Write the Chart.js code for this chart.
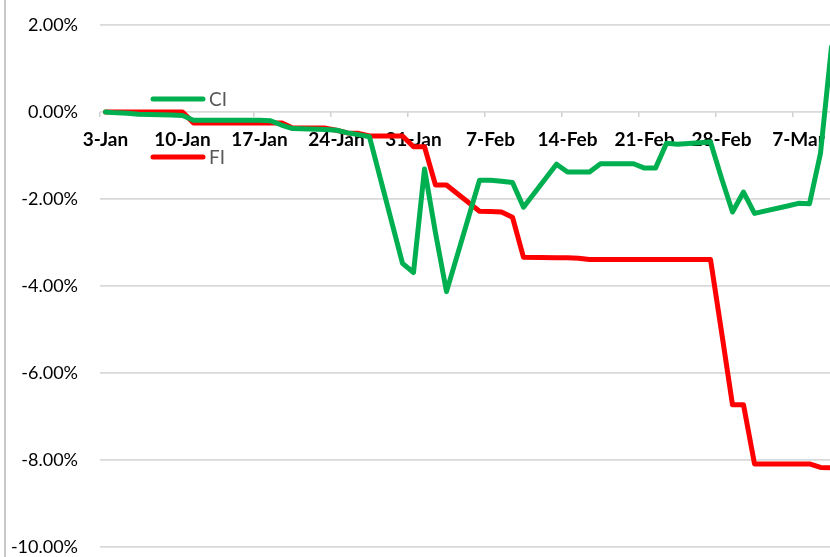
<!DOCTYPE html>
<html><head><meta charset="utf-8">
<script src="https://cdn.jsdelivr.net/npm/chart.js@4.4.1/dist/chart.umd.min.js"></script>
<style>
html,body{margin:0;padding:0;overflow:hidden;background:#fff;width:830px;height:557px;}
#wrap{position:relative;width:830px;height:557px;overflow:hidden;}
canvas{position:absolute;left:0;top:0;}
#edge{position:absolute;left:4px;top:0;width:2px;height:557px;background:#c8c8c8;}
</style></head><body>
<div id="wrap"><canvas id="c" width="960" height="557"></canvas><div id="edge"></div></div>
<script>
const dates = [
 '2023-01-03','2023-01-04','2023-01-05','2023-01-06',
 '2023-01-09','2023-01-10','2023-01-11','2023-01-12','2023-01-13',
 '2023-01-16','2023-01-17','2023-01-18','2023-01-19','2023-01-20',
 '2023-01-23','2023-01-24','2023-01-25','2023-01-26','2023-01-27',
 '2023-01-30','2023-01-31','2023-02-01','2023-02-02','2023-02-03',
 '2023-02-06','2023-02-07','2023-02-08','2023-02-09','2023-02-10',
 '2023-02-13','2023-02-14','2023-02-15','2023-02-16','2023-02-17',
 '2023-02-20','2023-02-21','2023-02-22','2023-02-23','2023-02-24',
 '2023-02-27','2023-02-28','2023-03-01','2023-03-02','2023-03-03',
 '2023-03-06','2023-03-07','2023-03-08','2023-03-09','2023-03-10'
];
const ciValues = [
 0, -0.02, -0.03, -0.05,
 -0.07, -0.08, -0.19, -0.19, -0.19,
 -0.19, -0.19, -0.20, -0.30, -0.38,
 -0.40, -0.42, -0.48, -0.52, -0.57,
 -3.48, -3.69, -1.31, -2.78, -4.13,
 -1.57, -1.57, -1.59, -1.62, -2.19,
 -1.20, -1.38, -1.38, -1.38, -1.19,
 -1.19, -1.29, -1.29, -0.72, -0.74,
 -0.69, -1.52, -2.30, -1.84, -2.33,
 -2.16, -2.10, -2.11, -0.95, 1.50
];
const fiValues = [
 0, 0, 0, 0,
 0, 0, -0.25, -0.25, -0.25,
 -0.25, -0.25, -0.25, -0.25, -0.37,
 -0.37, -0.42, -0.48, -0.49, -0.55,
 -0.55, -0.80, -0.80, -1.68, -1.68,
 -2.28, -2.29, -2.30, -2.42, -3.34,
 -3.35, -3.35, -3.36, -3.39, -3.39,
 -3.39, -3.39, -3.39, -3.39, -3.39,
 -3.39, -5.05, -6.73, -6.73, -8.09,
 -8.09, -8.09, -8.09, -8.17, -8.18
];
const seriesNames = ['CI', 'FI'];
const tickLabels = ['3-Jan','10-Jan','17-Jan','24-Jan','31-Jan','7-Feb','14-Feb','21-Feb','28-Feb','7-Mar','14-Mar'];
const yTicks = [2, 0, -2, -4, -6, -8, -10];

const DAY = 86400000;
const t0 = Date.parse(dates[0] + 'T00:00:00Z');
const dayIndex = dates.map(d => Math.round((Date.parse(d + 'T00:00:00Z') - t0) / DAY));
const toPoints = vals => vals.map((v, i) => ({x: dayIndex[i], y: v}));

const legendPlugin = {
  id: 'sideLegend',
  afterDraw(chart) {
    const ctx = chart.ctx;
    const rows = [99, 157];
    ctx.save();
    chart.data.datasets.forEach((ds, i) => {
      const y = rows[i];
      ctx.strokeStyle = ds.borderColor;
      ctx.lineWidth = 5;
      ctx.lineCap = 'round';
      ctx.beginPath();
      ctx.moveTo(153, y);
      ctx.lineTo(203, y);
      ctx.stroke();
      ctx.fillStyle = '#595959';
      ctx.font = '19px Lato';
      ctx.textBaseline = 'middle';
      ctx.textAlign = 'left';
      ctx.fillText(ds.label, 209, y + 1);
    });
    ctx.restore();
  }
};

new Chart(document.getElementById('c'), {
  type: 'line',
  data: {
    datasets: [
      {label: seriesNames[0], data: toPoints(ciValues), borderColor: '#00B050', backgroundColor: '#00B050',
       borderWidth: 5, pointRadius: 0, tension: 0, borderCapStyle: 'round', borderJoinStyle: 'round'},
      {label: seriesNames[1], data: toPoints(fiValues), borderColor: '#FF0000', backgroundColor: '#FF0000',
       borderWidth: 5, pointRadius: 0, tension: 0, borderCapStyle: 'round', borderJoinStyle: 'round'}
    ]
  },
  options: {
    responsive: false,
    animation: false,
    devicePixelRatio: 1,
    layout: {padding: {left: 0, top: 25, right: 79, bottom: 10}},
    plugins: {legend: {display: false}, tooltip: {enabled: false}},
    scales: {
      x: {
        type: 'linear',
        position: {y: 0},
        min: -0.5,
        max: 70.5,
        afterBuildTicks(scale) {
          scale.ticks = tickLabels.map((_, i) => ({value: -0.5 + 7 * i}));
        },
        afterFit(scale) { scale.height = 0; },
        ticks: {
          autoSkip: false, maxRotation: 0, minRotation: 0,
          labelOffset: 5.5, padding: 13,
          color: '#000',
          font: {family: 'Lato', size: 19, weight: 'bold', lineHeight: 1},
          callback: (v, i) => tickLabels[i]
        },
        grid: {drawOnChartArea: false, drawTicks: true, tickLength: 5, color: '#d0d0d0', lineWidth: 1.5},
        border: {display: false}
      },
      y: {
        min: -10, max: 2,
        afterBuildTicks(scale) {
          scale.ticks = yTicks.map(v => ({value: v}));
        },
        afterFit(scale) { scale.width = 100; scale.paddingTop = 0; scale.paddingBottom = 0; },
        ticks: {
          padding: 22, color: '#000',
          font: {family: 'Lato', size: 18, lineHeight: 1},
          callback: v => v.toFixed(2) + '%'
        },
        grid: {drawTicks: false, color: '#d9d9d9', lineWidth: 1.7},
        border: {display: false}
      }
    }
  },
  plugins: [legendPlugin]
});
</script>
</body></html>
